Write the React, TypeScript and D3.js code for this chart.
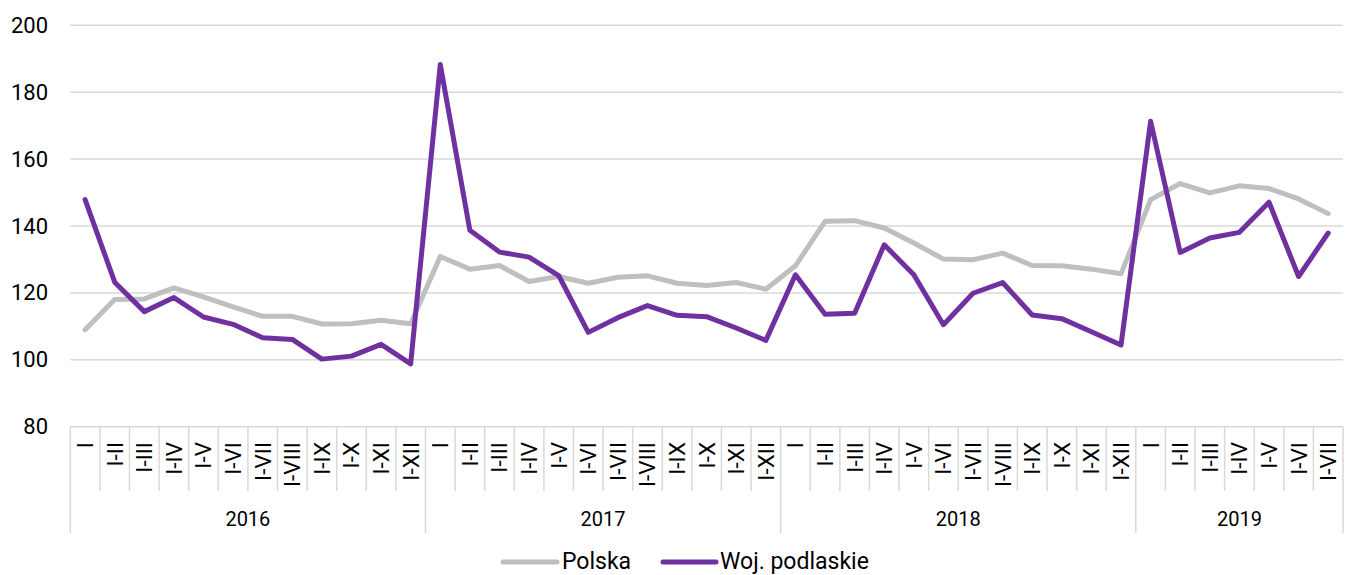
import React from "react";
import * as d3 from "d3";

const years = ["2016", "2017", "2018", "2019"];
const periods = ["I", "I-II", "I-III", "I-IV", "I-V", "I-VI", "I-VII", "I-VIII", "I-IX", "I-X", "I-XI", "I-XII"];
const periodsPerYear = [12, 12, 12, 7];

const polska = [
  109, 118, 118.2, 121.5, 118.8, 115.8, 113, 113, 110.7, 110.8, 111.8, 110.8,
  130.9, 127.1, 128.2, 123.4, 124.9, 122.9, 124.7, 125.1, 122.9, 122.2, 123.1, 121.1,
  128.1, 141.4, 141.6, 139.4, 134.9, 130.1, 129.9, 131.9, 128.2, 128.1, 127.1, 125.7,
  147.9, 152.7, 149.9, 152, 151.2, 148.1, 143.7,
];
const podlaskie = [
  147.9, 123.2, 114.4, 118.6, 112.8, 110.6, 106.6, 106.1, 100.2, 101.1, 104.6, 98.8,
  188.3, 138.7, 132.2, 130.7, 125.2, 108.2, 112.6, 116.2, 113.3, 112.9, 109.5, 105.8,
  125.4, 113.6, 113.9, 134.4, 125.4, 110.5, 119.9, 123.1, 113.4, 112.3, 108.4, 104.4,
  171.3, 132.1, 136.4, 138.1, 147.1, 124.9, 137.9,
];
const yTicks = [80, 100, 120, 140, 160, 180, 200];
const seriesNames = ["Polska", "Woj. podlaskie"];
const colors = ["#BFBFBF", "#7030A0"];

const categories: { key: string; label: string; year: string }[] = [];
years.forEach((y, yi) => {
  for (let i = 0; i < periodsPerYear[yi]; i++) categories.push({ key: y + "-" + i, label: periods[i], year: y });
});

export default function App() {
  const W = 1345, H = 575;
  const left = 70.3, right = 1343, top = 25.3, bottom = 426.7;
  const font = "Roboto, 'Noto Sans', sans-serif";

  const x = d3.scaleBand<string>().domain(categories.map((c) => c.key)).range([left, right]).padding(0);
  const y = d3.scaleLinear().domain([80, 200]).range([bottom, top]);
  const bw = x.bandwidth();

  const line = d3
    .line<number>()
    .x((_, i) => (x(categories[i].key) as number) + bw / 2)
    .y((d) => y(d));

  let idx = 0;
  const groups = years.map((yr, yi) => {
    const start = x(categories[idx].key) as number;
    idx += periodsPerYear[yi];
    const end = yi === years.length - 1 ? right : (x(categories[idx].key) as number);
    return { yr, start, end };
  });

  return (
    <svg width={W} height={H} style={{ position: "absolute", left: 0, top: 0, fontFamily: font }}>
      <rect width={W} height={H} fill="#fff" />
      {yTicks.map((t) => (
        <g key={t}>
          <line x1={left} x2={right} y1={y(t)} y2={y(t)} stroke="#D9D9D9" strokeWidth={1.5} />
          <text x={48} y={y(t)} textAnchor="end" dominantBaseline="central" fontSize={22} fill="#000">
            {t}
          </text>
        </g>
      ))}
      {categories.map((c, i) => {
        const xs = x(c.key) as number;
        const isYear = i === 0 || categories[i - 1].year !== c.year;
        return (
          <line key={"s" + c.key} x1={xs} x2={xs} y1={bottom} y2={isYear ? 533 : 491} stroke="#D9D9D9" strokeWidth={1.5} />
        );
      })}
      <line x1={right} x2={right} y1={bottom} y2={533} stroke="#D9D9D9" strokeWidth={1.5} />
      {categories.map((c) => {
        const cx = (x(c.key) as number) + bw / 2;
        return (
          <text
            key={"l" + c.key}
            transform={`translate(${cx},${442}) rotate(-90)`}
            textAnchor="end"
            dominantBaseline="central"
            fontSize={22.5}
            fill="#000"
          >
            {c.label}
          </text>
        );
      })}
      {groups.map((g) => (
        <text key={g.yr} x={(g.start + g.end) / 2} y={519} textAnchor="middle" dominantBaseline="central" fontSize={20} fill="#000">
          {g.yr}
        </text>
      ))}
      {[polska, podlaskie].map((s, si) => (
        <path key={si} d={line(s) as string} fill="none" stroke={colors[si]} strokeWidth={5} strokeLinejoin="round" strokeLinecap="round" />
      ))}
      <g>
        <line x1={503} x2={557} y1={562} y2={562} stroke={colors[0]} strokeWidth={5} strokeLinecap="round" />
        <text x={562} y={561} dominantBaseline="central" fontSize={23} fill="#000">
          {seriesNames[0]}
        </text>
        <line x1={663} x2={716} y1={562} y2={562} stroke={colors[1]} strokeWidth={5} strokeLinecap="round" />
        <text x={720} y={561} dominantBaseline="central" fontSize={23} fill="#000">
          {seriesNames[1]}
        </text>
      </g>
    </svg>
  );
}
